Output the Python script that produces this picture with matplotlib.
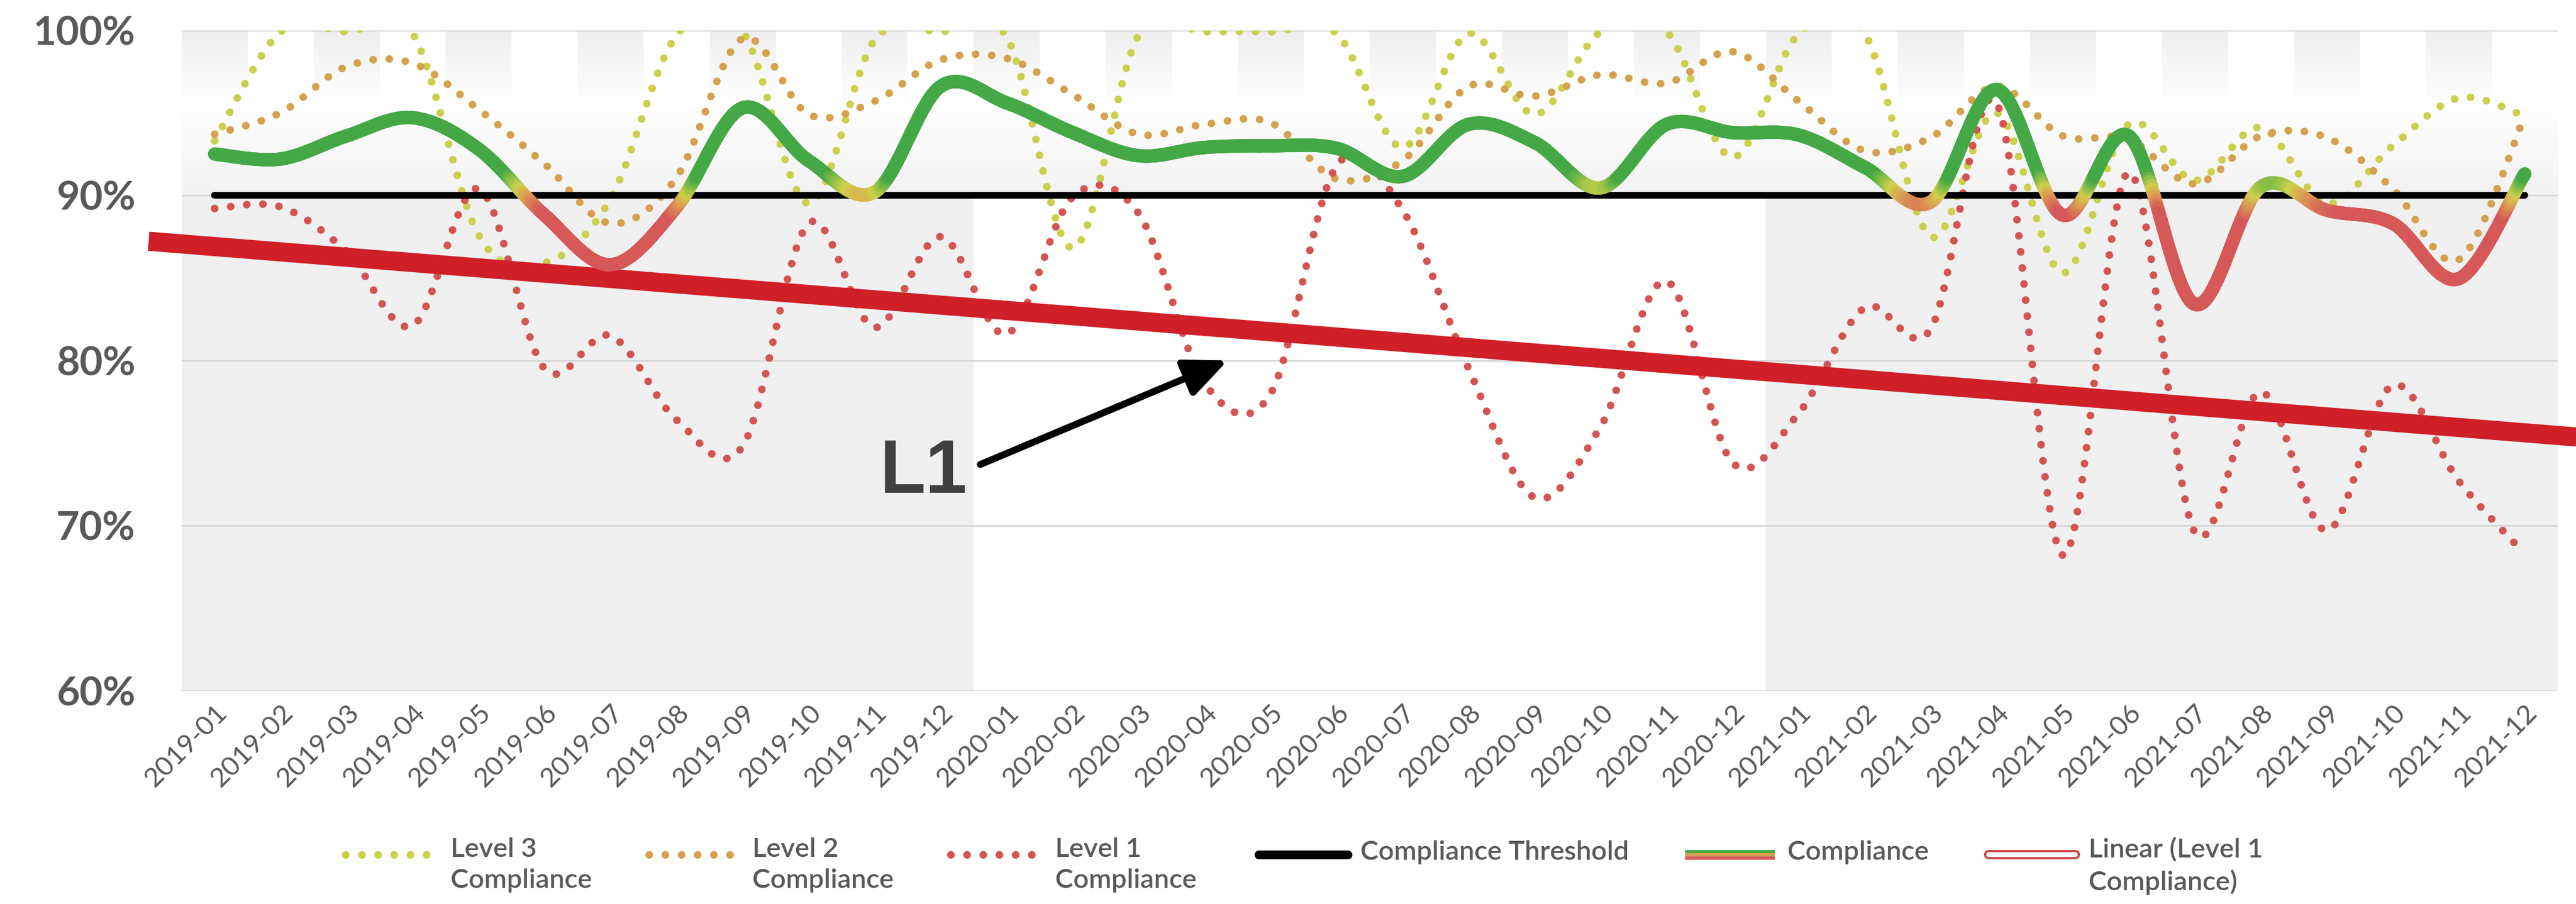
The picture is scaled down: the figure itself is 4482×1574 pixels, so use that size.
import numpy as np
import matplotlib.pyplot as plt
from matplotlib.collections import LineCollection
from matplotlib.colors import LinearSegmentedColormap, Normalize
from matplotlib.lines import Line2D

plt.rcParams['font.family'] = ['Lato', 'DejaVu Sans']

# Data (percent), one value per month 2019-01 .. 2021-12
months = [f'{y}-{m:02d}' for y in (2019, 2020, 2021) for m in range(1, 13)]

level3 = [93.3, 99.9, 99.9, 99.8, 87.6, 85.9, 89.8, 99.7, 99.9, 89.5, 99.4, 99.9,
          99.6, 86.8, 99.7, 99.9, 99.9, 99.8, 92.9, 99.8, 94.9, 99.9, 99.9, 92.3,
          99.8, 99.8, 87.5, 95.0, 85.3, 94.3, 90.9, 94.1, 89.5, 93.0, 95.9, 94.8]
level2 = [93.7, 95.0, 97.8, 98.0, 95.2, 91.9, 88.3, 91.1, 99.5, 94.9, 95.7, 98.2,
          98.3, 96.1, 93.7, 94.3, 94.4, 91.0, 92.1, 96.6, 96.0, 97.3, 96.8, 98.7,
          95.7, 92.7, 93.5, 96.6, 93.6, 93.4, 90.7, 93.6, 93.5, 90.4, 86.1, 94.8]
level1 = [89.2, 89.3, 86.6, 82.1, 90.4, 79.5, 81.5, 76.4, 74.8, 88.3, 82.0, 87.5,
          81.6, 89.9, 88.9, 78.6, 78.0, 91.8, 89.1, 79.5, 71.7, 76.0, 84.8, 73.8,
          76.8, 83.2, 81.9, 95.6, 68.2, 91.4, 69.6, 78.1, 69.7, 78.5, 72.7, 68.3]
compliance = [92.5, 92.2, 93.6, 94.7, 92.8, 88.8, 85.8, 89.3, 95.3, 92.1, 90.2, 96.6,
              95.6, 93.8, 92.4, 92.9, 93.0, 92.85, 91.15, 94.3, 93.2, 90.45, 94.3, 93.8,
              93.65, 91.7, 89.6, 96.4, 88.8, 93.6, 83.4, 90.5, 89.1, 88.3, 84.95, 91.3]
threshold = [90.0] * len(months)

x = np.arange(len(months))

C_L3 = '#cbd04c'
C_L2 = '#d4a14d'
C_L1 = '#d45353'
C_TREND = '#cf1f27'
TXT = '#595959'


def smooth(xs, ys, n=40):
    # excel-like smoothed line (catmull-rom as cubic bezier)
    xs = np.asarray(xs, float)
    ys = np.asarray(ys, float)
    px = np.concatenate([[xs[0]], xs, [xs[-1]]])
    py = np.concatenate([[ys[0]], ys, [ys[-1]]])
    t = np.linspace(0, 1, n)
    ox, oy = [], []
    for i in range(1, len(px) - 2):
        p0, p1, p2, p3 = px[i-1:i+3]
        q0, q1, q2, q3 = py[i-1:i+3]
        c1x, c1y = p1 + (p2 - p0) / 6, q1 + (q2 - q0) / 6
        c2x, c2y = p2 - (p3 - p1) / 6, q2 - (q3 - q1) / 6
        b0, b1, b2, b3 = (1-t)**3, 3*(1-t)**2*t, 3*(1-t)*t**2, t**3
        ox.append(b0*p1 + b1*c1x + b2*c2x + b3*p2)
        oy.append(b0*q1 + b1*c1y + b2*c2y + b3*q2)
    return np.concatenate(ox), np.concatenate(oy)


fig = plt.figure(figsize=(22.41, 7.87), dpi=200)
ax = fig.add_axes([0.0705, 0.2359, 0.9224, 0.7307])

# background: striped gradient above the threshold, year blocks below
v = np.linspace(100, 90, 300)
img = np.ones((len(v), len(months), 3))
for j in range(len(months)):
    top = 0.935 if j % 2 == 0 else 1.0
    g = np.where(v > 95.5, top + (1 - top) * (100 - v) / 4.5,
                 1 - 0.05 * (95.5 - v) / 5.5)
    img[:, j, :] = g[:, None]
ax.imshow(img, extent=(-0.5, 35.5, 90, 100), aspect='auto',
          interpolation='nearest', zorder=0)
ax.axvspan(-0.5, 11.5, ymin=0, ymax=0.75, color='#f0f0f0', lw=0, zorder=0)
ax.axvspan(23.5, 35.5, ymin=0, ymax=0.75, color='#f0f0f0', lw=0, zorder=0)

# dotted level series
DOT_LW = 4.8
DOT_LS = (0, (0.01, 2.1))
for ys, c in [(level3, C_L3), (level2, C_L2), (level1, C_L1)]:
    sx, sy = smooth(x, ys)
    ax.plot(sx, sy, color=c, lw=DOT_LW, ls=DOT_LS, dash_capstyle='round', zorder=2)

# threshold
ax.plot(x, threshold, color='black', lw=4.2, solid_capstyle='round', zorder=3)

# linear trend of level 1, forecast one period each way
k, b = np.polyfit(x, level1, 1)
tx = np.array([-1.0, 36.5])
ax.plot(tx, k * tx + b, color=C_TREND, lw=12, solid_capstyle='butt',
        clip_on=False, zorder=3.5)

# compliance, coloured by value
cmap = LinearSegmentedColormap.from_list(
    'comp', [(0, '#d65858'), (0.35, '#dc9a52'), (0.6, '#cfd14a'), (1, '#43a845')])
norm = Normalize(88.9, 91.2)
sx, sy = smooth(x, compliance, n=60)
pts = np.column_stack([sx, sy]).reshape(-1, 1, 2)
segs = np.concatenate([pts[:-1], pts[1:]], axis=1)
lc = LineCollection(segs, colors=cmap(norm((sy[:-1] + sy[1:]) / 2)),
                    lw=8.4, capstyle='round', zorder=4)
ax.add_collection(lc)

# annotation
ax.text(10.07, 72.0, 'L1', fontsize=47, fontweight='bold', color='#404040',
        family=['Liberation Sans', 'DejaVu Sans'], ha='left', va='baseline')
ax.annotate('', xy=(15.35, 80.0), xytext=(11.6, 73.7),
            arrowprops=dict(arrowstyle='-|>,head_length=0.45,head_width=0.2',
                            lw=4.3, color='black', mutation_scale=50,
                            shrinkA=0, shrinkB=0))

# axes
ax.set_xlim(-0.5, 35.5)
ax.set_ylim(60, 100)
ax.set_yticks([60, 70, 80, 90, 100])
ax.set_yticklabels(['60%', '70%', '80%', '90%', '100%'], fontsize=25,
                   fontweight='bold', color=TXT)
ax.set_xticks(x)
ax.set_xticklabels(months, rotation=45, ha='right', rotation_mode='anchor',
                   fontsize=17, color=TXT)
ax.tick_params(axis='y', length=0, pad=29)
ax.tick_params(axis='x', length=0, pad=6)
ax.yaxis.grid(True, color='#d6d6d6', lw=1.0)
ax.set_axisbelow(True)
for s in ax.spines.values():
    s.set_visible(False)

# legend drawn by hand
W, H = 4482.0, 1574.0
def fx(px):
    return px / W
def fy(py):
    return 1 - py / H

ly = 1488
for x0, x1, c in [(601, 755, C_L3), (1129, 1283, C_L2), (1654, 1806, C_L1)]:
    fig.add_artist(Line2D([fx(x0), fx(x1)], [fy(ly), fy(ly)], color=c,
                          lw=DOT_LW, ls=DOT_LS, dash_capstyle='round'))
fig.add_artist(Line2D([fx(2190), fx(2345)], [fy(ly), fy(ly)], color='black',
                      lw=5.5, solid_capstyle='round'))
for dy, c in [(-5.5, '#43a845'), (0, '#d4a04d'), (5.5, '#d65858')]:
    fig.add_artist(Line2D([fx(2932), fx(3088)], [fy(ly + dy), fy(ly + dy)],
                          color=c, lw=2.1, solid_capstyle='butt'))
fig.add_artist(Line2D([fx(3460), fx(3611)], [fy(ly), fy(ly)], color='#cf4747',
                      lw=5.8, solid_capstyle='round'))
fig.add_artist(Line2D([fx(3460), fx(3611)], [fy(ly), fy(ly)], color='white',
                      lw=3.0, solid_capstyle='round'))

labels = [(784, 'Level 3\nCompliance'), (1309, 'Level 2\nCompliance'),
          (1836, 'Level 1\nCompliance'), (2367, 'Compliance Threshold'),
          (3110, 'Compliance'), (3634, 'Linear (Level 1\nCompliance)')]
for px, s in labels:
    if '\n' in s:
        fig.text(fx(px), fy(ly - 30), s, fontsize=17, color=TXT,
                 fontweight='semibold', ha='left', va='top', linespacing=1.35)
    else:
        fig.text(fx(px), fy(ly - 4), s, fontsize=17, color=TXT,
                 fontweight='semibold', ha='left', va='center')

fig.savefig('out.png', dpi=200, facecolor='white')
